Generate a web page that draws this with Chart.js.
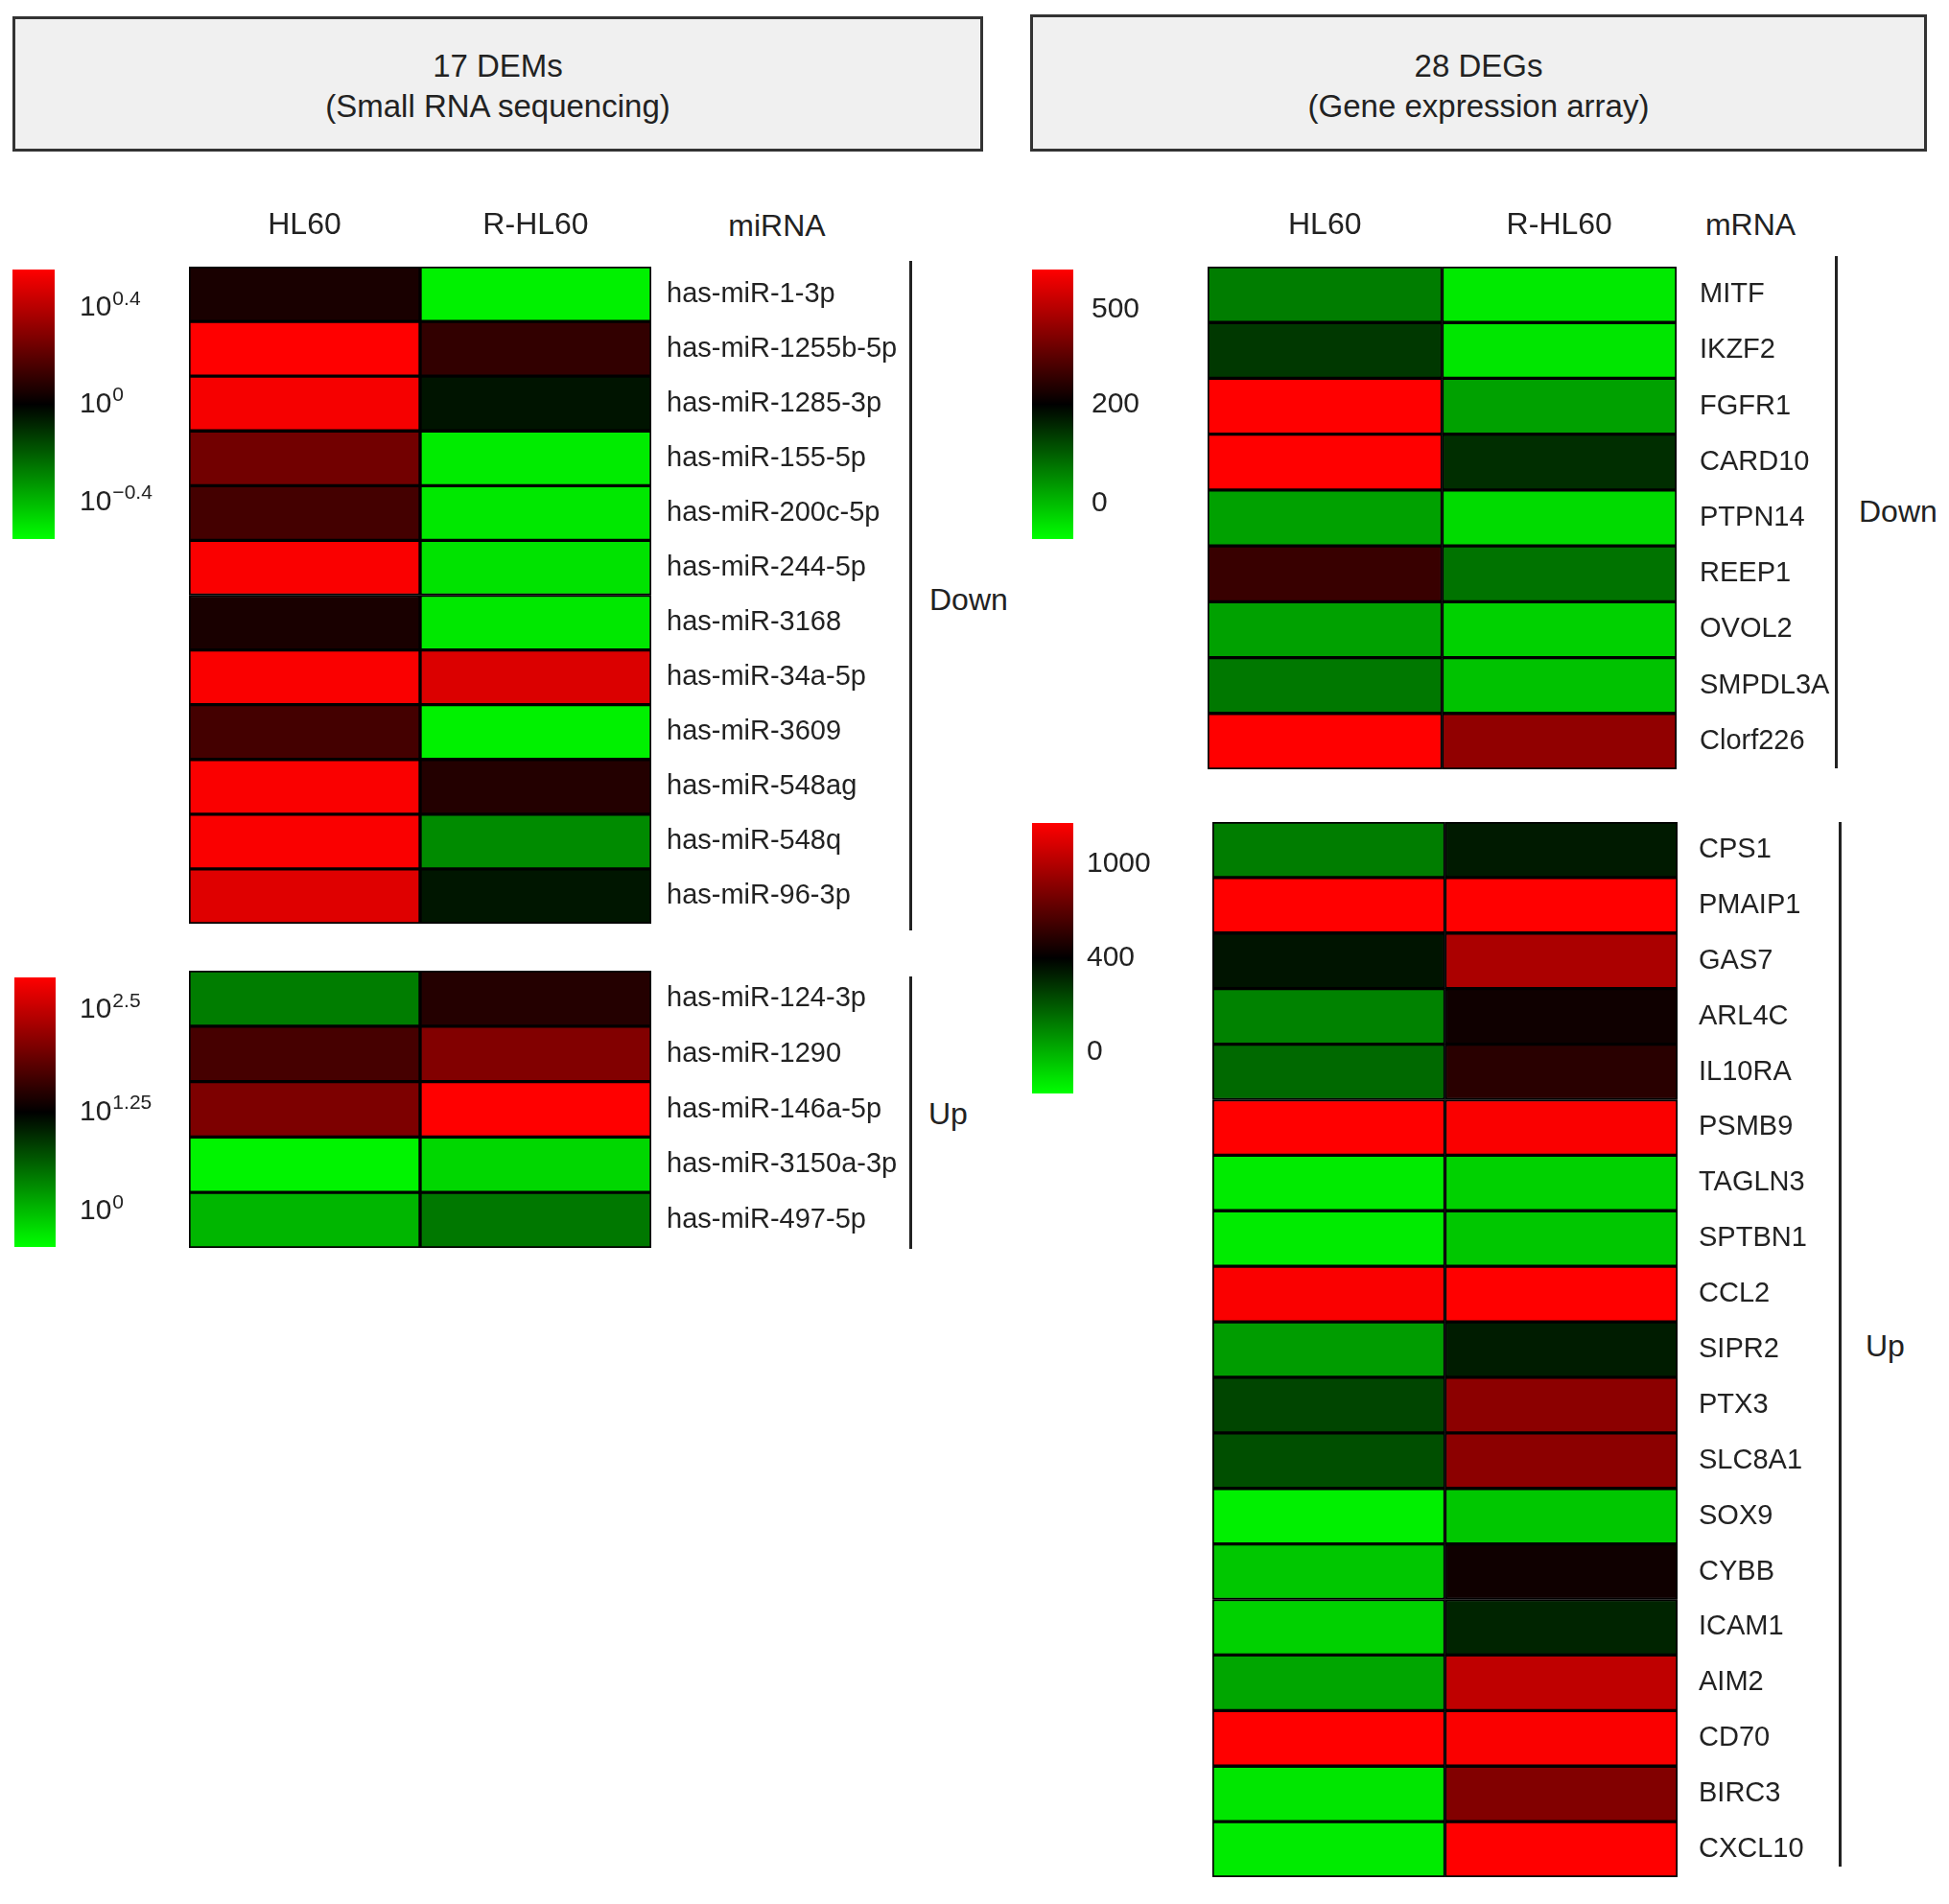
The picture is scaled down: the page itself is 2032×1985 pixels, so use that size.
<!DOCTYPE html>
<html>
<head>
<meta charset="utf-8">
<script src="https://cdn.jsdelivr.net/npm/chart.js@4.4.1/dist/chart.umd.min.js"></script>
<style>
html,body{margin:0;padding:0;background:#fff;}
body{width:2032px;height:1985px;position:relative;overflow:hidden;font-family:"Liberation Sans",Arial,Helvetica,sans-serif;color:#222;}
.box{position:absolute;box-sizing:border-box;background:#f0f0f0;border:3px solid #333;text-align:center;font-size:33px;line-height:42px;}
.txt{position:absolute;font-size:32px;line-height:1;white-space:nowrap;}
.vline{position:absolute;width:3px;background:#222;}
.wrap{position:absolute;}
</style>
</head>
<body>
<div class="box" style="left:13px;top:17px;width:1012px;height:141px;padding-top:28px">17 DEMs<br>(Small RNA sequencing)</div>
<div class="box" style="left:1074px;top:15px;width:935px;height:143px;padding-top:30px">28 DEGs<br>(Gene expression array)</div>

<div class="txt" style="left:810px;top:235px;transform:translate(-50%,-50%)">miRNA</div>
<div class="txt" style="left:1825px;top:234px;transform:translate(-50%,-50%)">mRNA</div>

<div class="vline" style="left:948px;top:272px;height:698px"></div>
<div class="vline" style="left:948px;top:1018px;height:284px"></div>
<div class="vline" style="left:1913px;top:267px;height:534px"></div>
<div class="vline" style="left:1917px;top:857px;height:1089px"></div>

<div class="txt" style="left:969px;top:625px;transform:translateY(-50%)">Down</div>
<div class="txt" style="left:968px;top:1161px;transform:translateY(-50%)">Up</div>
<div class="txt" style="left:1938px;top:533px;transform:translateY(-50%)">Down</div>
<div class="txt" style="left:1945px;top:1403px;transform:translateY(-50%)">Up</div>

<div class="wrap" style="left:197px;top:198px;width:744px;height:765px"><canvas id="hmA"></canvas></div>
<div class="wrap" style="left:197px;top:1012px;width:744px;height:289px"><canvas id="hmB"></canvas></div>
<div class="wrap" style="left:1259px;top:198px;width:669px;height:604px"><canvas id="hmC"></canvas></div>
<div class="wrap" style="left:1264px;top:857px;width:665px;height:1100px"><canvas id="hmD"></canvas></div>

<div class="wrap" style="left:13px;top:281px;width:174px;height:281px"><canvas id="cbA"></canvas></div>
<div class="wrap" style="left:15px;top:1019px;width:173px;height:281px"><canvas id="cbB"></canvas></div>
<div class="wrap" style="left:1076px;top:281px;width:143px;height:281px"><canvas id="cbC"></canvas></div>
<div class="wrap" style="left:1076px;top:858px;width:143px;height:282px"><canvas id="cbD"></canvas></div>

<script>
// ---------- data ----------
const columns = ['HL60', 'R-HL60'];

// miRNA, down-regulated (log10 expression)
const miDownLabels = ['has-miR-1-3p','has-miR-1255b-5p','has-miR-1285-3p','has-miR-155-5p','has-miR-200c-5p','has-miR-244-5p','has-miR-3168','has-miR-34a-5p','has-miR-3609','has-miR-548ag','has-miR-548q','has-miR-96-3p'];
const miDownHL60  = [0.056, 0.56, 0.54, 0.25, 0.15, 0.55, 0.056, 0.55, 0.15, 0.55, 0.55, 0.49];
const miDownRHL60 = [-0.52, 0.11, -0.044, -0.51, -0.50, -0.49, -0.50, 0.48, -0.52, 0.077, -0.30, -0.047];

// miRNA, up-regulated (log10 expression)
const miUpLabels = ['has-miR-124-3p','has-miR-1290','has-miR-146a-5p','has-miR-3150a-3p','has-miR-497-5p'];
const miUpHL60  = [0.42, 1.70, 2.06, -0.38, 0.04];
const miUpRHL60 = [1.48, 2.09, 2.90, -0.18, 0.45];

// mRNA, down-regulated
const mDownLabels = ['MITF','IKZF2','FGFR1','CARD10','PTPN14','REEP1','OVOL2','SMPDL3A','Clorf226'];
const mDownHL60  = [67, 140, 628, 628, 29, 294, 29, 73, 628];
const mDownRHL60 = [-49, -44, 29, 151, -33, 78, -22, -6, 444];

// mRNA, up-regulated
const mUpLabels = ['CPS1','PMAIP1','GAS7','ARL4C','IL10RA','PSMB9','TAGLN3','SPTBN1','CCL2','SIPR2','PTX3','SLC8A1','SOX9','CYBB','ICAM1','AIM2','CD70','BIRC3','CXCL10'];
const mUpHL60  = [116, 1257, 354, 104, 162, 1257, -134, -134, 1240, 46, 243, 220, -145, -52, -76, 23, 1257, -122, -134];
const mUpRHL60 = [342, 1257, 974, 451, 537, 1240, -76, -52, 1257, 336, 871, 871, -52, 451, 319, 1043, 1240, 837, 1257];

// colour scales: [green end, black middle, red end]
const miDownScale = [-0.55, 0, 0.56];
const miUpScale   = [-0.45, 1.25, 2.9];
const mDownScale  = [-71, 200, 628];
const mUpScale    = [-180, 400, 1257];

// colour-bar tick labels
const miDownTicks = [0.4, 0, -0.4];
const miUpTicks   = [2.5, 1.25, 0];
const mDownTicks  = [500, 200, 0];
const mUpTicks    = [1000, 400, 0];

// ---------- helpers ----------
const FONT = '"Liberation Sans", Arial, Helvetica, sans-serif';
Chart.defaults.font.family = FONT;
Chart.defaults.color = '#222';

function norm(v, s) {
  const n = v >= s[1] ? (v - s[1]) / (s[2] - s[1]) : (v - s[1]) / (s[1] - s[0]);
  return Math.max(-1, Math.min(1, n));
}
function colorN(n) {
  return n >= 0 ? `rgb(${Math.round(255 * n)},0,0)` : `rgb(0,${Math.round(-255 * n)},0)`;
}
function cellColor(v, s) { return colorN(norm(v, s)); }
function noPad(s) { s.paddingTop = 0; s.paddingBottom = 0; s.paddingLeft = 0; s.paddingRight = 0; }

function makeHeatmap(id, labels, hl, rhl, scale, header, labelW, labelPad) {
  const vals = [hl, rhl];
  const datasets = columns.map((col, c) => ({
    label: col,
    data: labels.map(() => [c, c + 1]),
    backgroundColor: vals[c].map(v => cellColor(v, scale)),
    borderColor: '#000',
    borderWidth: 2,
    borderSkipped: false,
    barPercentage: 1,
    categoryPercentage: 1,
    grouped: false
  }));
  new Chart(document.getElementById(id), {
    type: 'bar',
    data: { labels: labels, datasets: datasets },
    options: {
      indexAxis: 'y',
      responsive: true,
      maintainAspectRatio: false,
      animation: false,
      layout: { padding: 0 },
      plugins: { legend: { display: false }, tooltip: { enabled: false } },
      scales: {
        x: {
          type: 'linear', min: 0, max: columns.length, position: 'top', display: header,
          grid: { display: false, drawTicks: false }, border: { display: false },
          afterBuildTicks: s => { s.ticks = columns.map((c, i) => ({ value: i + 0.5 })); },
          afterFit: s => { s.height = header ? 80 : 0; noPad(s); },
          ticks: { padding: 24, font: { size: 32 }, color: '#222', maxRotation: 0, autoSkip: false,
                   callback: (v, i) => columns[i] }
        },
        y: {
          position: 'right',
          grid: { display: false, drawTicks: false }, border: { display: false },
          afterFit: s => { s.width = labelW; noPad(s); },
          ticks: { padding: labelPad, font: { size: 29 }, color: '#222', autoSkip: false }
        }
      }
    }
  });
}

function makeColorbar(id, scale, ticks, expo, labelW, gap) {
  const stops = [];
  for (let i = 0; i <= 40; i++) stops.push(i / 40);
  new Chart(document.getElementById(id), {
    type: 'bar',
    data: {
      labels: [''],
      datasets: [{
        data: [[norm(scale[0], scale), norm(scale[2], scale)]],
        backgroundColor: ctx => {
          const area = ctx.chart.chartArea;
          if (!area) return '#000';
          const g = ctx.chart.ctx.createLinearGradient(0, area.bottom, 0, area.top);
          stops.forEach(t => g.addColorStop(t, colorN(-1 + 2 * t)));
          return g;
        },
        borderWidth: 0,
        barPercentage: 1,
        categoryPercentage: 1
      }]
    },
    options: {
      responsive: true,
      maintainAspectRatio: false,
      animation: false,
      layout: { padding: { right: labelW, left: 0, top: 0, bottom: 0 } },
      plugins: { legend: { display: false }, tooltip: { enabled: false } },
      scales: {
        x: { display: false },
        y: { display: false, min: -1, max: 1 }
      }
    },
    plugins: [{
      id: 'cbLabels',
      afterDraw(chart) {
        const c = chart.ctx, ys = chart.scales.y, x = chart.chartArea.right + gap;
        c.save();
        c.fillStyle = '#222';
        c.textBaseline = 'middle';
        c.textAlign = 'left';
        ticks.forEach(t => {
          const y = ys.getPixelForValue(norm(t, scale));
          if (expo) {
            c.font = '30px ' + FONT;
            c.fillText('10', x, y);
            const w = c.measureText('10').width;
            c.font = '21px ' + FONT;
            const e = t < 0 ? '\u2212' + Math.abs(t) : String(t);
            c.fillText(e, x + w + 1, y - 9);
          } else {
            c.font = '30px ' + FONT;
            c.fillText(String(t), x, y);
          }
        });
        c.restore();
      }
    }]
  });
}

makeHeatmap('hmA', miDownLabels, miDownHL60, miDownRHL60, miDownScale, true, 262, 16);
makeHeatmap('hmB', miUpLabels, miUpHL60, miUpRHL60, miUpScale, false, 262, 16);
makeHeatmap('hmC', mDownLabels, mDownHL60, mDownRHL60, mDownScale, true, 180, 24);
makeHeatmap('hmD', mUpLabels, mUpHL60, mUpRHL60, mUpScale, false, 180, 22);

makeColorbar('cbA', miDownScale, miDownTicks, true, 130, 26);
makeColorbar('cbB', miUpScale, miUpTicks, true, 130, 25);
makeColorbar('cbC', mDownScale, mDownTicks, false, 100, 19);
makeColorbar('cbD', mUpScale, mUpTicks, false, 100, 14);
</script>
</body>
</html>
